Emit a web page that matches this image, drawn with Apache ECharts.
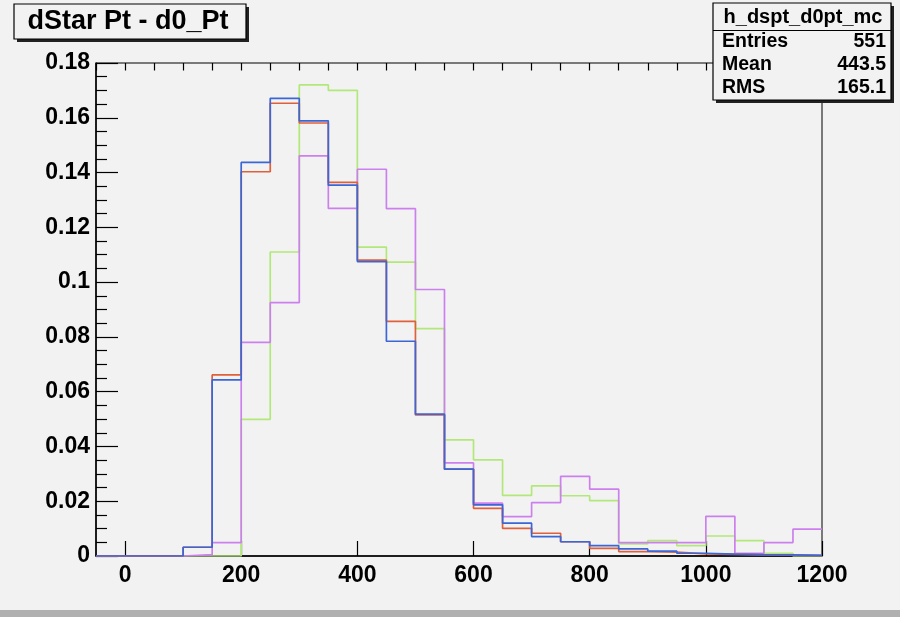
<!DOCTYPE html>
<html>
<head>
<meta charset="utf-8">
<script src="https://cdn.jsdelivr.net/npm/echarts@6/dist/echarts.min.js"></script>
<style>
html,body{margin:0;padding:0;background:#f2f2f2;}
#c{width:900px;height:617px;}
</style>
</head>
<body>
<div id="c"></div>
<script>
// bin lower edges (width 50)
const binEdges = [-50,0,50,100,150,200,250,300,350,400,450,500,550,600,650,700,750,800,850,900,950,1000,1050,1100,1150];
const xEnd = 1200;
const blueVals  = [0,0,0,0.0032,0.0643,0.1437,0.1671,0.1589,0.1354,0.1075,0.0784,0.0518,0.0317,0.0187,0.0120,0.0071,0.0052,0.0038,0.0026,0.0018,0.0010,0.0007,0.0005,0.0004,0.0002];
const redVals   = [0,0,0,0.0032,0.0661,0.1403,0.1653,0.1581,0.1364,0.1080,0.0857,0.0515,0.0317,0.0174,0.0101,0.0083,0.0052,0.0028,0.0016,0.0014,0.0008,0.0006,0.0004,0.0003,0.0002];
const greenVals = [0,0,0,0,0,0.0499,0.1110,0.1720,0.1700,0.1128,0.1073,0.0830,0.0424,0.0351,0.0221,0.0256,0.0220,0.0202,0.0044,0.0056,0.0038,0.0073,0.0056,0.0010,0];
const pinkVals  = [0,0,0,0.0005,0.0049,0.0780,0.0925,0.1461,0.1269,0.1412,0.1268,0.0973,0.0340,0.0193,0.0144,0.0195,0.0291,0.0244,0.0049,0.0049,0.0049,0.0145,0.0010,0.0049,0.0098];
const xMajorTicks = [0,200,400,600,800,1000,1200];
const titleText = 'dStar Pt - d0_Pt';
const statsName = 'h_dspt_d0pt_mc';
const statsRows = [['Entries','551'],['Mean','443.5'],['RMS','165.1']];

function toSteps(vals){
  const pts = binEdges.map((e,i)=>[e, vals[i]]);
  pts.push([xEnd, vals[vals.length-1]]);
  return pts;
}
const FONT = '"Liberation Sans", Arial, Helvetica, sans-serif';
const chart = echarts.init(document.getElementById('c'), null, {renderer:'canvas'});

function mkSeries(name, vals, color, z){
  return {
    name, type:'line', step:'end', data: toSteps(vals), showSymbol:false, symbol:'none',
    lineStyle:{color, width:1.7}, z, animation:false, xAxisIndex:0, yAxisIndex:0
  };
}

const statsGraphics = [];
const sx = 713, sy = 3, sw = 178, sh = 97;
statsGraphics.push({type:'rect', shape:{x:sx+3,y:sy+3,width:sw,height:sh}, style:{fill:'#222'}, z:100});
statsGraphics.push({type:'rect', shape:{x:sx,y:sy,width:sw,height:sh}, style:{fill:'#f2f2f2', stroke:'#000', lineWidth:1.2}, z:101});
statsGraphics.push({type:'line', shape:{x1:sx,y1:30.5,x2:sx+sw,y2:30.5}, style:{stroke:'#000', lineWidth:1}, z:102});
statsGraphics.push({type:'text', x:sx+sw/2+1, y:17, style:{text:statsName, font:'bold 20px '+FONT, fill:'#000', align:'center', verticalAlign:'middle'}, z:103});
statsRows.forEach((r,i)=>{
  const yy = 42 + i*23;
  statsGraphics.push({type:'text', x:722, y:yy, style:{text:r[0], font:'bold 19.5px '+FONT, fill:'#000', align:'left', verticalAlign:'middle'}, z:103});
  statsGraphics.push({type:'text', x:886, y:yy, style:{text:r[1], font:'bold 19.5px '+FONT, fill:'#000', align:'right', verticalAlign:'middle'}, z:103});
});

const option = {
  backgroundColor:'#f2f2f2',
  animation:false,
  grid:{left:96, right:78, top:63, bottom:61, show:true, borderColor:'#000', borderWidth:1, backgroundColor:'transparent', containLabel:false},
  xAxis:[
    {type:'value', min:-50, max:1200, gridIndex:0,
     axisLine:{show:true, onZero:false, lineStyle:{color:'#000', width:1.5}},
     axisTick:{show:true, inside:true, length:15, customValues: xMajorTicks, lineStyle:{color:'#000', width:1.2}},
     axisLabel:{show:true, customValues: xMajorTicks, formatter: v => String(v), color:'#000', fontFamily:FONT, fontWeight:'bold', fontSize:23, margin:8},
     splitLine:{show:false}},
    {type:'value', min:-50, max:1200, interval:50, gridIndex:0,
     axisLine:{show:false, onZero:false},
     axisTick:{show:true, inside:true, length:7.5, lineStyle:{color:'#000', width:1.2}},
     axisLabel:{show:false}, splitLine:{show:false}}
  ],
  yAxis:[{type:'value', min:0, max:0.18, interval:0.02,
    axisLine:{show:true, onZero:false, lineStyle:{color:'#000', width:1.5}},
    axisTick:{show:true, inside:true, length:22, lineStyle:{color:'#000', width:1.2}},
    minorTick:{show:true, splitNumber:4, length:11, lineStyle:{color:'#000', width:1.2}},
    axisLabel:{color:'#000', fontFamily:FONT, fontWeight:'bold', fontSize:23, margin:6},
    splitLine:{show:false}}],
  series:[
    mkSeries('green', greenVals, '#b2e87a', 2),
    mkSeries('pink', pinkVals, '#cc80ee', 3),
    mkSeries('red', redVals, '#e0603c', 4),
    mkSeries('blue', blueVals, '#3b66d8', 5)
  ],
  graphic:[
    {type:'rect', shape:{x:17,y:7,width:232,height:35}, style:{fill:'#222'}, z:100},
    {type:'rect', shape:{x:14,y:4,width:232,height:35}, style:{fill:'#f2f2f2', stroke:'#000', lineWidth:1.2}, z:101},
    {type:'text', x:128, y:22, style:{text:titleText, font:'bold 27px '+FONT, fill:'#000', align:'center', verticalAlign:'middle'}, z:102},
    {type:'rect', shape:{x:0,y:610,width:900,height:7}, style:{fill:'#b0b0b0'}, z:90}
  ].concat(statsGraphics)
};
chart.setOption(option);
</script>
</body>
</html>
